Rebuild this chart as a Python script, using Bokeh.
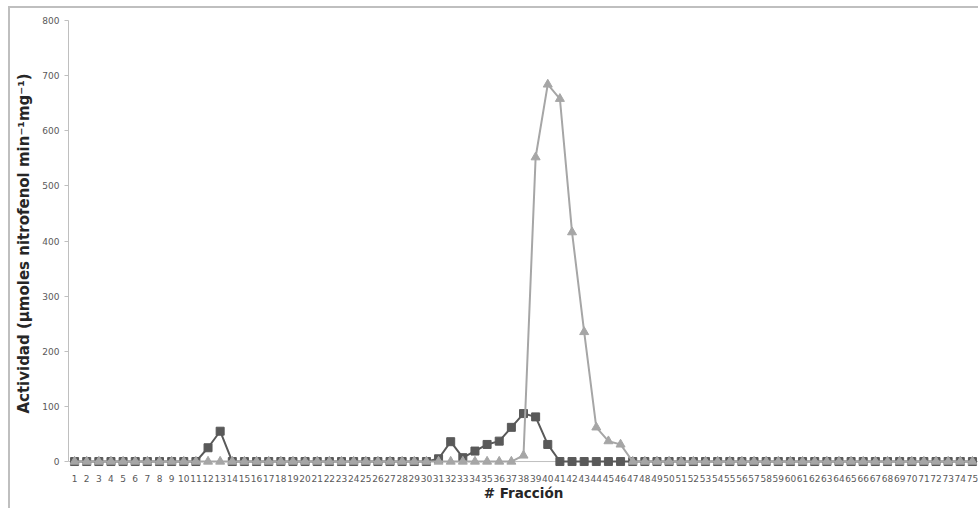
from bokeh.plotting import figure
from bokeh.models import FactorRange, Range1d, Span, SingleIntervalTicker
from bokeh.embed import file_html
from bokeh.resources import INLINE

fractions = [str(i) for i in range(1, 76)]

# Dark squares series (fractions 1..75)
actividad_a = [
    0, 0, 0, 0, 0, 0, 0, 0, 0, 0,        # 1-10
    0, 25, 55, 0, 0, 0, 0, 0, 0, 0,      # 11-20
    0, 0, 0, 0, 0, 0, 0, 0, 0, 0,        # 21-30
    5, 36, 7, 19, 31, 37, 62, 87, 81, 31,  # 31-40
    0, 0, 0, 0, 0, 0, 0, 0, 0, 0,        # 41-50
    0, 0, 0, 0, 0, 0, 0, 0, 0, 0,        # 51-60
    0, 0, 0, 0, 0, 0, 0, 0, 0, 0,        # 61-70
    0, 0, 0, 0, 0,                       # 71-75
]

# Light triangles series (fractions 1..75)
actividad_b = [
    0, 0, 0, 0, 0, 0, 0, 0, 0, 0,        # 1-10
    0, 0, 0, 0, 0, 0, 0, 0, 0, 0,        # 11-20
    0, 0, 0, 0, 0, 0, 0, 0, 0, 0,        # 21-30
    0, 0, 0, 0, 0, 0, 0, 11, 552, 684,   # 31-40
    658, 416, 235, 62, 37, 31, 0, 0, 0, 0,  # 41-50
    0, 0, 0, 0, 0, 0, 0, 0, 0, 0,        # 51-60
    0, 0, 0, 0, 0, 0, 0, 0, 0, 0,        # 61-70
    0, 0, 0, 0, 0,                       # 71-75
]

y_ticks_interval = 100

p = figure(
    width=970, height=502,
    x_range=FactorRange(factors=fractions, range_padding=0),
    y_range=Range1d(-9, 800),
    output_backend="svg", toolbar_location=None,
    min_border_left=58, min_border_right=2, min_border_top=12, min_border_bottom=44,
)
p.styles = {
    "margin-left": "8px", "margin-top": "6px",
    "border-left": "2px solid #BFBFBF", "border-top": "2px solid #BFBFBF",
}
p.outline_line_color = None
p.background_fill_color = "white"
p.border_fill_color = "white"
p.xgrid.grid_line_color = None
p.ygrid.grid_line_color = None

base = Span(location=0, dimension="width", line_color="#BFBFBF", line_width=1, level="underlay")
p.add_layout(base)

dark = "#595959"
light = "#A6A6A6"

p.line(fractions, actividad_a, line_color=dark, line_width=2)
p.scatter(fractions, actividad_a, marker="square", size=8, fill_color=dark, line_color=dark)
p.line(fractions, actividad_b, line_color=light, line_width=2)
p.scatter(fractions, actividad_b, marker="triangle", size=9, fill_color=light, line_color=light)

font = "DejaVu Sans"

yax = p.yaxis[0]
yax.ticker = SingleIntervalTicker(interval=y_ticks_interval)
yax.bounds = (0, 800)
yax.axis_line_color = "#BFBFBF"
yax.major_tick_line_color = "#BFBFBF"
yax.major_tick_out = 4
yax.major_tick_in = 0
yax.minor_tick_line_color = None
yax.major_label_text_font = font
yax.major_label_text_font_size = "9px"
yax.major_label_text_color = "#595959"
yax.major_label_standoff = 5
yax.axis_label = "Actividad (µmoles nitrofenol min⁻¹mg⁻¹)"
yax.axis_label_text_font = font
yax.axis_label_text_font_size = "15px"
yax.axis_label_text_font_style = "bold"
yax.axis_label_text_color = "#262626"
yax.axis_label_standoff = 6

xax = p.xaxis[0]
xax.axis_line_color = None
xax.major_tick_line_color = None
xax.minor_tick_line_color = None
xax.major_label_text_font = font
xax.major_label_text_font_size = "9px"
xax.major_label_text_color = "#595959"
xax.major_label_standoff = 2
xax.axis_label = "# Fracción"
xax.axis_label_text_font = font
xax.axis_label_text_font_size = "13.5px"
xax.axis_label_text_font_style = "bold"
xax.axis_label_text_color = "#262626"
xax.axis_label_standoff = 0

open("out.html", "w").write(file_html(p, INLINE))
